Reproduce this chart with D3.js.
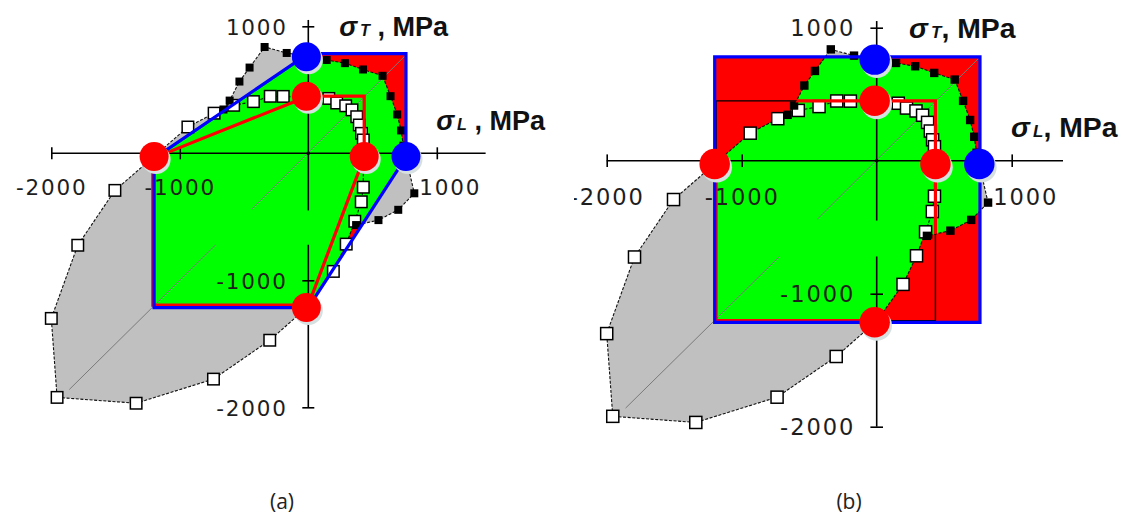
<!DOCTYPE html>
<html>
<head>
<meta charset="utf-8">
<script src="https://cdn.jsdelivr.net/npm/d3@7/dist/d3.min.js"></script>
<style>
  html, body { margin: 0; padding: 0; background: #fff; }
  svg { display: block; }
</style>
</head>
<body>
<svg id="chart" width="1135" height="521"></svg>
<script>
// Biaxial failure stresses in MPa: sigma_L (longitudinal) vs sigma_T (transverse)

// Test envelope traced by open squares (closed loop)
const openSquares = [
  [-1505, -292], [-937, 207], [-733, 316], [-581, 378], [-427, 407],
  [-296, 449], [-195, 448], [160, 432], [221, 396], [291, 374],
  [340, 342], [377, 288], [397, 223], [414, 157], [428, 105],
  [428, -267], [412, -382], [362, -535], [295, -715], [195, -930],
  [0, -1205], [-300, -1472], [-738, -1778], [-1340, -1968],
  [-1955, -1922], [-2000, -1300], [-1794, -724]
];

// Test envelope traced by filled squares (arc over the tension side)
const filledSquares = [
  [-660, 345], [-612, 415], [-536, 565], [-457, 675], [-340, 837],
  [-168, 790], [143, 735], [285, 710], [426, 660], [578, 610],
  [640, 450], [692, 306], [722, 180], [740, 60], [825, -315],
  [700, -445], [546, -526], [372, -565]
];

// Panel (a): hexagonal criteria
const hexOuter = [[-1200, -40], [0, 785], [760, 785], [760, -30], [0, -1215], [-1200, -1215]];
const hexInner = [[-1210, -40], [0, 450], [435, 450], [435, -30], [0, -1195], [-1210, -1195]];

// Panel (b): rectangular (maximum stress) criteria
const boxOuter = [[-1200, -1215], [-1200, 780], [765, 780], [765, -1215]];
const boxInner = [[-1190, -1203], [-1190, 450], [435, 450], [435, -1203]];

// Uniaxial strengths
const redDots = [[-1200, -25], [-15, 450], [435, -25], [-15, -1215]];
const blueDots = [[-15, 760], [760, -25]];

// Reference line sigma_L = sigma_T and axis extents
const diagonalParts = [[[-1860, -1860], [-720, -720]], [[-440, -440], [765, 780]]];
const axisLExtent = [-2000, 1380];
const axisTParts = [[-2000, -720], [-450, 1050]];

// Ticks
const ticksL = [-2000, -1000, 1000];
const labelsL = ["-2000", "-1000", "1000"];
const ticksT = [1000, -1000, -2000];
const labelsT = ["1000", "-1000", "-2000"];

const panels = [
  { id: "a", ox: 308.3, oy: 153.3, kx: 0.1285, ky: 0.127, caption: "(a)", capX: 282,
    outer: hexOuter, inner: hexInner, sep: " , ", clip: [0, 574] },
  { id: "b", ox: 876.7, oy: 160.7, kx: 0.135, ky: 0.133, caption: "(b)", capX: 849,
    outer: boxOuter, inner: boxInner, sep: ", ", clip: [574, 1135] }
];

const COLORS = { grey: "#c0c0c0", red: "#ff0000", green: "#00ff00", blue: "#0000ff" };
const TICK_FONT = "'DejaVu Sans', sans-serif";
const NAME_FONT = "'Liberation Sans', Arial, sans-serif";

const svg = d3.select("#chart");
const defs = svg.append("defs");

panels.forEach(p => {
  const s = p.kx / 0.1285;
  const x = d3.scaleLinear().domain([0, 1000]).range([p.ox, p.ox + 1000 * p.kx]);
  const y = d3.scaleLinear().domain([0, 1000]).range([p.oy, p.oy - 1000 * p.ky]);
  const line = d3.line().x(d => x(d[0])).y(d => y(d[1]));
  const closed = pts => line(pts) + "Z";

  // clip regions: panel area and union of the test envelopes
  defs.append("clipPath").attr("id", `panel-${p.id}`)
    .append("rect").attr("x", p.clip[0]).attr("y", 0)
    .attr("width", p.clip[1] - p.clip[0]).attr("height", 521);
  const envClip = defs.append("clipPath").attr("id", `env-${p.id}`);
  envClip.append("path").attr("d", closed(openSquares));
  envClip.append("path").attr("d", closed(filledSquares));

  const root = svg.append("g").attr("clip-path", `url(#panel-${p.id})`);

  // test envelope area
  root.append("path").attr("d", closed(openSquares)).attr("fill", COLORS.grey);
  root.append("path").attr("d", closed(filledSquares)).attr("fill", COLORS.grey);

  // criterion area: red outside the envelope, green inside
  root.append("path").attr("d", closed(p.outer)).attr("fill", COLORS.red);
  root.append("path").attr("d", closed(p.outer)).attr("fill", COLORS.green)
    .attr("clip-path", `url(#env-${p.id})`);

  // diagonal reference line
  diagonalParts.forEach(seg => {
    root.append("path").attr("d", line(seg))
      .attr("stroke", "#7a7a7a").attr("stroke-width", 1).attr("fill", "none");
  });

  // axis lines
  root.append("path")
    .attr("d", line([[axisLExtent[0], 0], [axisLExtent[1], 0]]))
    .attr("stroke", "#000").attr("stroke-width", 1.6).attr("fill", "none");
  axisTParts.forEach(seg => {
    root.append("path").attr("d", line([[0, seg[0]], [0, seg[1]]]))
      .attr("stroke", "#000").attr("stroke-width", 1.6).attr("fill", "none");
  });
  root.append("circle").attr("cx", x(0)).attr("cy", y(0)).attr("r", 1.8).attr("fill", "#000");

  // ticks and tick labels
  const axL = d3.axisBottom(x).tickValues(ticksL)
    .tickFormat((d, i) => labelsL[i]).tickSize(6 * s).tickPadding(20.5 * s);
  const gL = root.append("g").attr("transform", `translate(0,${y(0)})`).call(axL);
  gL.select(".domain").remove();
  gL.selectAll(".tick line").attr("y1", -6 * s).attr("stroke", "#000").attr("stroke-width", 1.6);
  gL.selectAll(".tick text")
    .attr("dx", d => d > 0 ? 13 * s : 0);

  const axT = d3.axisLeft(y).tickValues(ticksT)
    .tickFormat((d, i) => labelsT[i]).tickSize(6 * s).tickPadding(14.5 * s);
  const gT = root.append("g").attr("transform", `translate(${x(0)},0)`).call(axT);
  gT.select(".domain").remove();
  gT.selectAll(".tick line").attr("x1", 6 * s).attr("stroke", "#000").attr("stroke-width", 1.6);
  gT.selectAll(".tick text").attr("dy", "0.36em");

  [gL, gT].forEach(g => {
    g.attr("font-family", null).attr("font-size", null);
    g.selectAll(".tick text")
      .attr("font-family", TICK_FONT).attr("font-size", 21.5 * s)
      .attr("letter-spacing", 1.8 * s).attr("fill", "#1e1e1e");
  });

  // envelope outlines
  root.append("path").attr("d", closed(openSquares))
    .attr("fill", "none").attr("stroke", "#111").attr("stroke-width", 1.1)
    .attr("stroke-dasharray", "3,1.6");
  root.append("path").attr("d", line(filledSquares))
    .attr("fill", "none").attr("stroke", "#111").attr("stroke-width", 1.1)
    .attr("stroke-dasharray", "3,1.6");

  // test points
  const sq = 11.5 * s, bsq = 8 * s;
  root.selectAll(null).data(openSquares).join("rect")
    .attr("x", d => x(d[0]) - sq / 2).attr("y", d => y(d[1]) - sq / 2)
    .attr("width", sq).attr("height", sq)
    .attr("fill", "#fff").attr("stroke", "#000").attr("stroke-width", 1.5);
  root.selectAll(null).data(filledSquares).join("rect")
    .attr("x", d => x(d[0]) - bsq / 2).attr("y", d => y(d[1]) - bsq / 2)
    .attr("width", bsq).attr("height", bsq).attr("fill", "#000");

  // inner criterion: black where it leaves the envelope, red inside it
  root.append("path").attr("d", closed(p.inner))
    .attr("fill", "none").attr("stroke", "#000").attr("stroke-width", 1.4);
  root.append("path").attr("d", closed(p.inner))
    .attr("fill", "none").attr("stroke", COLORS.red).attr("stroke-width", 3.2)
    .attr("stroke-linejoin", "miter").attr("clip-path", `url(#env-${p.id})`);

  // outer criterion
  root.append("path").attr("d", closed(p.outer))
    .attr("fill", "none").attr("stroke", COLORS.blue).attr("stroke-width", 3.2)
    .attr("stroke-linejoin", "miter");

  // strength dots with soft shadow
  const r = 14.5 * s;
  const dots = redDots.map(d => ({ d, c: COLORS.red })).concat(blueDots.map(d => ({ d, c: COLORS.blue })));
  root.selectAll(null).data(dots).join("circle")
    .attr("cx", o => x(o.d[0]) + 2 * s).attr("cy", o => y(o.d[1]) + 3 * s).attr("r", r)
    .attr("fill", "#d6e0e0");
  root.selectAll(null).data(dots).join("circle")
    .attr("cx", o => x(o.d[0])).attr("cy", o => y(o.d[1])).attr("r", r)
    .attr("fill", o => o.c);

  // axis names
  const nameSize = 27 * s;
  const axisName = (pos, sub) => {
    const t = root.append("text")
      .attr("x", x(pos[0])).attr("y", y(pos[1]))
      .attr("font-family", NAME_FONT).attr("font-weight", "bold")
      .attr("font-size", nameSize).attr("fill", "#111");
    t.append("tspan").attr("font-style", "italic").text("σ");
    t.append("tspan").attr("font-style", "italic").attr("font-size", nameSize * 0.6)
      .attr("dx", 3 * s).text(sub);
    t.append("tspan").attr("xml:space", "preserve").text(p.sep + "MPa");
  };
  axisName([240, 920], "T");
  axisName([995, 180], "L");

  // panel caption
  svg.append("text").attr("x", p.capX).attr("y", 509)
    .attr("text-anchor", "middle")
    .attr("font-family", "'Open Sans', 'Noto Sans', sans-serif").attr("font-size", 21)
    .attr("fill", "#222").text(p.caption);
});
</script>
</body>
</html>
